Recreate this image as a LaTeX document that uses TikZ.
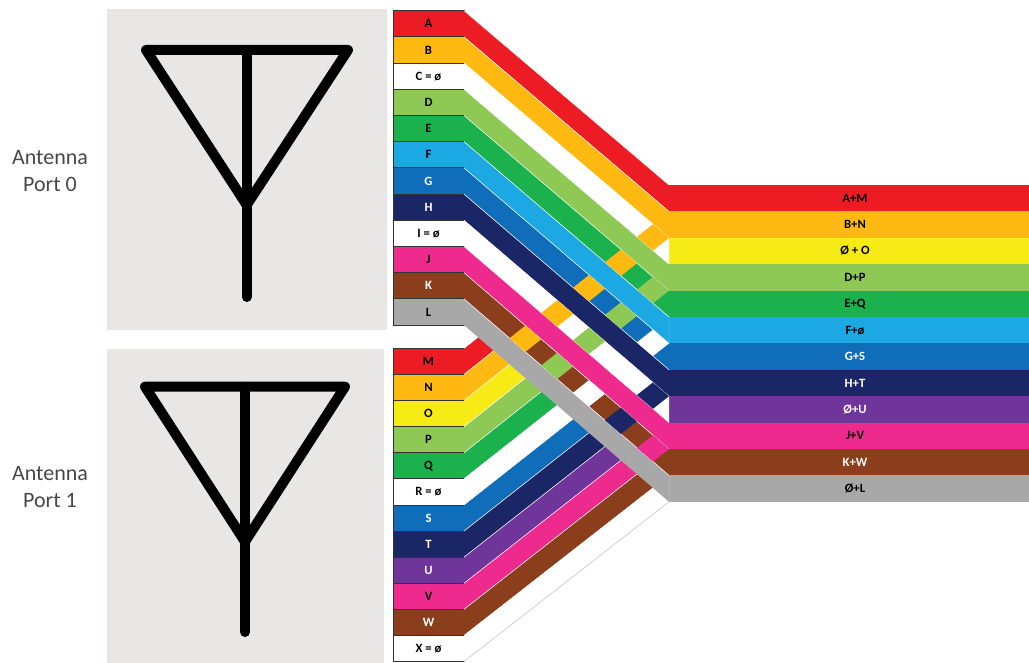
\documentclass[tikz,border=0pt]{standalone}
\usepackage{fontspec}
\setmainfont{Carlito}
\definecolor{cRed}{HTML}{ED1C24}
\definecolor{cOrange}{HTML}{FFB910}
\definecolor{cYellow}{HTML}{F6EB14}
\definecolor{cLime}{HTML}{8FC955}
\definecolor{cGreen}{HTML}{1BB14C}
\definecolor{cSky}{HTML}{1CA8E2}
\definecolor{cBlue}{HTML}{0F6DB9}
\definecolor{cNavy}{HTML}{1B2666}
\definecolor{cPurple}{HTML}{70359B}
\definecolor{cPink}{HTML}{EE2A8F}
\definecolor{cBrown}{HTML}{8B3E1C}
\definecolor{cGray}{HTML}{A8A8A8}
\definecolor{cPanel}{HTML}{E8E7E6}
\tikzset{
  panel/.style={fill=cPanel,inner sep=0pt,outer sep=0pt},
  antenna/.style={line width=7.5pt,line join=round,line cap=round},
  port/.style={align=center,text=black!72,font=\fontsize{16.5}{20.25}\selectfont},
  cellU/.style={draw=black!80,line width=0.6pt,inner sep=0pt,outer sep=0pt,minimum width=53.25pt,minimum height=19.65pt,font=\fontsize{9.5}{10}\selectfont\bfseries},
  cellL/.style={cellU,minimum height=19.58pt},
  band/.style={inner sep=0pt,outer sep=0pt,minimum width=270pt,minimum height=19.8pt},
  tag/.style={inner sep=0pt,font=\fontsize{9.5}{10}\selectfont\bfseries},
  edge/.style={white,line width=0.4pt}
}
\begin{document}
\begin{tikzpicture}[x=0.75pt,y=-0.75pt]
\useasboundingbox (0,0) rectangle (1029,663);

\node[panel,minimum width=210pt,minimum height=240.75pt] (panel0) at (247,169.5) {};
\node[panel,minimum width=207.75pt,minimum height=235.5pt] (panel1) at (245.5,506) {};
\draw[antenna] (146,50) -- (348,50) -- (246.7,205) -- cycle;
\draw[antenna] (246.7,50) -- (246.7,297);
\draw[antenna] (145,386.7) -- (345,386.7) -- (245,541.7) -- cycle;
\draw[antenna] (245,386.7) -- (245,632);
\node[port] (port0) at (50,171) {Antenna\\Port 0};
\node[port] (port1) at (50,487) {Antenna\\Port 1};

\foreach \i/\c/\t/\l in {0/cRed/black/A,1/cOrange/black/B,2/white/black/C = ø,3/cLime/black/D,4/cGreen/black/E,5/cSky/black/F,6/cBlue/white/G,7/cNavy/white/H,8/white/black/I = ø,9/cPink/black/J,10/cBrown/white/K,11/cGray/black/L}
  \node[cellU,fill=\c,text=\t] (up\i) at (428.5,{23.8+26.2*\i}) {\l};
\foreach \i/\c/\t/\l in {0/cRed/black/M,1/cOrange/black/N,2/cYellow/black/O,3/cLime/black/P,4/cGreen/black/Q,5/white/black/R = ø,6/cBlue/white/S,7/cNavy/white/T,8/cPurple/white/U,9/cPink/black/V,10/cBrown/white/W,11/white/black/X = ø}
  \node[cellL,fill=\c,text=\t] (low\i) at (428.5,{361.4+26.1*\i}) {\l};
\foreach \i/\c/\t/\l in {0/cRed/black/A+M,1/cOrange/black/B+N,2/cYellow/black/Ø + O,3/cLime/black/D+P,4/cGreen/black/E+Q,5/cSky/black/F+ø,6/cBlue/white/G+S,7/cNavy/white/H+T,8/cPurple/white/Ø+U,9/cPink/black/J+V,10/cBrown/white/K+W,11/cGray/black/Ø+L} {
  \node[band,fill=\c] (sum\i) at (849,{198.2+26.4*\i}) {};
  \node[tag,text=\t] (tag\i) at (855,{198.2+26.4*\i}) {\l};
}

% lower strips go under, upper strips over them
\foreach \i/\c in {0/cRed,1/cOrange,2/cYellow,3/cLime,4/cGreen,5/white,6/cBlue,7/cNavy,8/cPurple,9/cPink,10/cBrown,11/white} {
  \fill[\c] (low\i.north east) -- (sum\i.north west) -- (sum\i.south west) -- (low\i.south east) -- cycle;
  \draw[edge] (low\i.north east) -- (sum\i.north west);
}
\draw[black!18,line width=0.6pt] (low11.south east) -- (sum11.south west);
\foreach \i/\c in {0/cRed,1/cOrange,2/white,3/cLime,4/cGreen,5/cSky,6/cBlue,7/cNavy,8/white,9/cPink,10/cBrown,11/cGray} {
  \fill[\c] (up\i.north east) -- (sum\i.north west) -- (sum\i.south west) -- (up\i.south east) -- cycle;
  \draw[edge] (up\i.north east) -- (sum\i.north west);
}

% weave: odd lower strips pass over even upper strips
\foreach \k/\c in {1/cOrange,3/cLime,5/white,7/cNavy,9/cPink}
  \foreach \i in {2,4,6,8,10} {
    \ifnum\i>\k
    \begin{scope}
      \clip (up\i.north east) -- (sum\i.north west) -- (sum\i.south west) -- (up\i.south east) -- cycle;
      \fill[\c] (low\k.north east) -- (sum\k.north west) -- (sum\k.south west) -- (low\k.south east) -- cycle;
    \end{scope}
    \fi
  }
\end{tikzpicture}
\end{document}
